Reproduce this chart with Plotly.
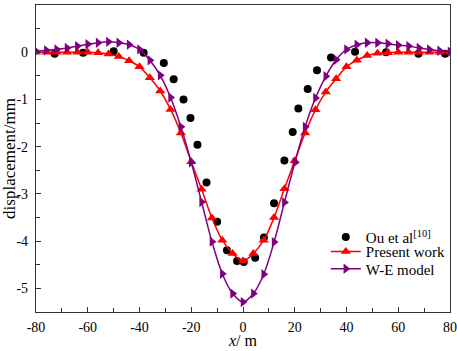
import plotly.graph_objects as go

# Ou et al [10] measured data
ou_x = [-72.8, -61.8, -50, -38.4, -30.6, -26.8, -23.0, -20.3, -17.6, -14.1, -10.0, -6.2,
        -2.3, 0.3, 4.7, 8.1, 12.0, 16.0, 19.2, 21.4, 25.0, 28.6, 34.0, 43.3, 55.3, 67.8, 78.1]
ou_y = [-0.03, -0.01, 0.02, -0.01, -0.23, -0.57, -1.0, -1.39, -1.96, -2.76, -3.59, -4.19,
        -4.42, -4.44, -4.35, -3.92, -3.2, -2.29, -1.69, -1.19, -0.78, -0.38, -0.11, 0.01, 0.0, -0.03, -0.03]

# Present work
pw_x = list(range(-80, 81, 4))
pw_y = [0.0, 0.0, 0.0, 0.0, 0.0, 0.0, -0.01, -0.04, -0.09, -0.18, -0.31, -0.54, -0.82,
        -1.21, -1.71, -2.32, -2.90, -3.51, -3.98, -4.26, -4.42,
        -4.26, -3.98, -3.50, -2.89, -2.30, -1.71, -1.22, -0.84, -0.56, -0.31, -0.17,
        -0.07, -0.02, -0.01, 0.0, 0.0, 0.0, 0.0, 0.0, 0.0]

# W-E model
we_x = list(range(-80, 81, 4))
we_y = [0.02, 0.04, 0.06, 0.09, 0.13, 0.17, 0.20, 0.22, 0.20, 0.16, 0.06, -0.17, -0.49,
        -0.96, -1.58, -2.33, -3.17, -4.01, -4.69, -5.11, -5.29,
        -5.11, -4.70, -4.02, -3.18, -2.34, -1.58, -0.97, -0.51, -0.16, 0.06, 0.16,
        0.20, 0.20, 0.18, 0.15, 0.13, 0.09, 0.06, 0.03, 0.01]

x_ticks = [-80, -60, -40, -20, 0, 20, 40, 60, 80]
y_ticks = [-5, -4, -3, -2, -1, 0, 1]

FONT = "Liberation Serif"

fig = go.Figure()
fig.add_trace(go.Scatter(x=ou_x, y=ou_y, mode="markers", name="Ou et al<sup>[10]</sup>",
                         legend="legend",
                         marker=dict(symbol="circle", size=8, color="black")))
fig.add_trace(go.Scatter(x=pw_x, y=pw_y, mode="lines+markers", name="Present work",
                         legend="legend2",
                         line=dict(color="#ff0000", width=1.5, shape="spline"),
                         marker=dict(symbol="triangle-up", size=9, color="#ff0000")))
fig.add_trace(go.Scatter(x=we_x, y=we_y, mode="lines+markers", name="W-E model",
                         legend="legend3",
                         line=dict(color="#7f007f", width=1.5, shape="spline"),
                         marker=dict(symbol="triangle-right", size=9, color="#7f007f")))

axis_common = dict(showgrid=False, zeroline=False, showline=True, linecolor="#333333",
                   linewidth=1.3, mirror=True, ticks="inside", ticklen=5, tickwidth=1,
                   tickcolor="#333333", automargin=False,
                   tickfont=dict(family=FONT, size=14, color="black"))

fig.update_xaxes(range=[-80, 80], tickvals=x_ticks, ticktext=[str(v) for v in x_ticks],
                 minor=dict(dtick=10, ticks="inside", ticklen=4, tickcolor="#333333"),
                 ticklabelstandoff=2,
                 **axis_common)
fig.update_yaxes(range=[-5.5, 1], tickvals=y_ticks, ticktext=[str(v) for v in y_ticks],
                 minor=dict(dtick=0.5, ticks="inside", ticklen=4, tickcolor="#333333"),
                 title=dict(text="displacement/mm", font=dict(family=FONT, size=17, color="black"),
                            standoff=6),
                 ticklabelstandoff=4,
                 **axis_common)

leg_common = dict(x=0.70, xanchor="left", yanchor="top", bgcolor="rgba(0,0,0,0)",
                  font=dict(family=FONT, size=15, color="black"), itemwidth=30)

fig.update_layout(width=457, height=351, margin=dict(l=36, r=7, t=5, b=39),
                  paper_bgcolor="white", plot_bgcolor="white", font=dict(family=FONT),
                  showlegend=True,
                  legend=dict(y=0.297, **leg_common),
                  legend2=dict(y=0.250, **leg_common),
                  legend3=dict(y=0.194, **leg_common),
                  annotations=[dict(text="<i>x</i>/ m", xref="paper", yref="paper",
                                    x=0.5, y=-0.128, xanchor="center", yanchor="bottom",
                                    showarrow=False,
                                    font=dict(family=FONT, size=16, color="black"))])

fig.write_html("out.html", config={"displayModeBar": False},
               post_script="document.body.style.margin='0';document.body.style.overflow='hidden';")
